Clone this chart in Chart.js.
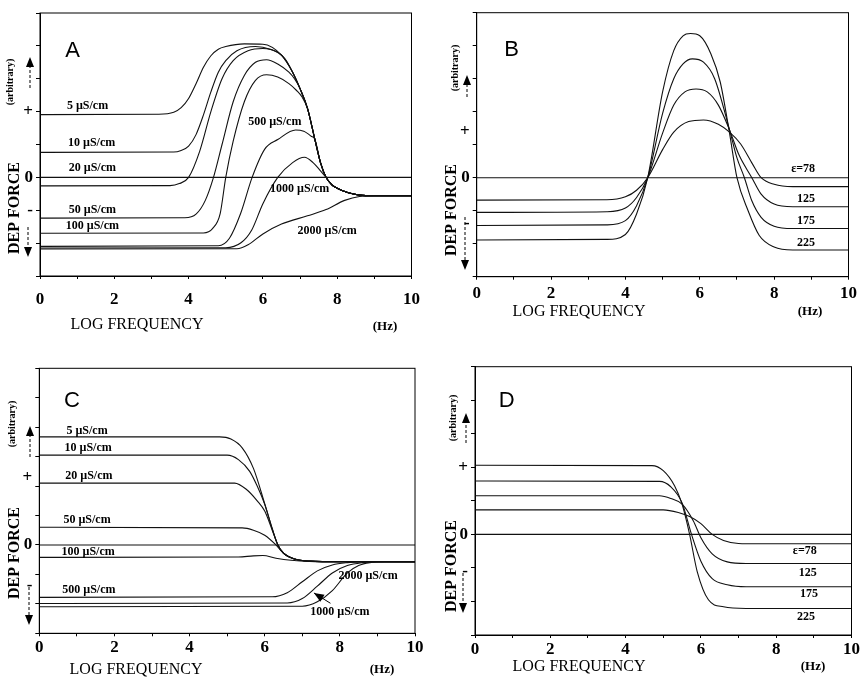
<!DOCTYPE html>
<html>
<head>
<meta charset="utf-8">
<script src="https://cdn.jsdelivr.net/npm/chart.js@4.4.0/dist/chart.umd.min.js"></script>
<style>
body { margin: 0; background: #fff; width: 861px; height: 679px; position: relative; overflow: hidden; }
canvas { position: absolute; }
</style>
</head>
<body>
<canvas id="panelA" width="430" height="340" style="left:0;top:0"></canvas>
<canvas id="panelB" width="431" height="340" style="left:430px;top:0"></canvas>
<canvas id="panelC" width="430" height="339" style="left:0;top:340px"></canvas>
<canvas id="panelD" width="431" height="339" style="left:430px;top:340px"></canvas>
<script>
// x tick labels shared by all panels
var xTickValues = [0, 2, 4, 6, 8, 10];
var zeroLine = [[0, 0], [10, 0]];

// Panel A : DEP force vs log frequency, conductivity series
var a5    = [[0,1.91],[3.2,1.92],[3.6,1.98],[3.8,2.12],[4,2.4],[4.2,2.85],[4.4,3.35],[4.6,3.7],[4.8,3.9],[5,3.98],[5.5,4.06],[6,4.05],[6.5,3.72],[6.8,3.2],[7,2.7],[7.2,2.1],[7.4,1.15],[7.55,0.45],[7.7,0],[7.85,-0.22],[8,-0.33],[8.3,-0.47],[8.6,-0.54],[9,-0.56],[10,-0.56]];
var a10   = [[0,0.76],[3.6,0.77],[3.8,0.82],[4,0.95],[4.2,1.3],[4.4,1.9],[4.6,2.6],[4.8,3.2],[5,3.55],[5.3,3.85],[5.8,3.98],[6.2,3.9],[6.5,3.72],[6.8,3.2],[7,2.7],[7.2,2.1],[7.4,1.15],[7.55,0.45],[7.7,0],[7.85,-0.22],[8,-0.33],[8.3,-0.47],[8.6,-0.54],[9,-0.56],[10,-0.56]];
var a20   = [[0,-0.26],[3.5,-0.25],[3.75,-0.19],[4,0],[4.3,0.8],[4.6,2],[4.9,3],[5.2,3.55],[5.6,3.85],[6,3.92],[6.4,3.8],[6.6,3.6],[6.8,3.2],[7,2.7],[7.2,2.1],[7.4,1.15],[7.55,0.45],[7.7,0],[7.85,-0.22],[8,-0.33],[8.3,-0.47],[8.6,-0.54],[9,-0.56],[10,-0.56]];
var a50   = [[0,-1.24],[3.9,-1.23],[4.2,-1.12],[4.45,-0.7],[4.67,0],[4.9,1],[5.2,2.3],[5.5,3.1],[5.8,3.5],[6.1,3.58],[6.4,3.45],[6.7,3.2],[6.85,3],[7,2.7],[7.2,2.1],[7.4,1.15],[7.55,0.45],[7.7,0],[7.85,-0.22],[8,-0.33],[8.3,-0.47],[8.6,-0.54],[9,-0.56],[10,-0.56]];
var a100  = [[0,-1.7],[4.4,-1.69],[4.65,-1.55],[4.85,-1.1],[5,0],[5.2,1.1],[5.5,2.3],[5.8,2.95],[6.1,3.12],[6.4,3.05],[6.7,2.85],[6.9,2.65],[7.05,2.45],[7.2,2.1],[7.4,1.15],[7.55,0.45],[7.7,0],[7.85,-0.22],[8,-0.33],[8.3,-0.47],[8.6,-0.54],[9,-0.56],[10,-0.56]];
var a500  = [[0,-2.1],[4.8,-2.08],[5.1,-1.85],[5.4,-1.1],[5.71,0],[6.05,0.86],[6.4,1.15],[6.88,1.44],[7.1,1.4],[7.3,1.25],[7.4,1.15],[7.55,0.45],[7.7,0],[7.85,-0.22],[8,-0.33],[8.3,-0.47],[8.6,-0.54],[9,-0.56],[10,-0.56]];
var a1000 = [[0,-2.15],[5,-2.14],[5.41,-1.99],[5.7,-1.6],[6,-0.8],[6.4,0],[6.8,0.45],[7.12,0.61],[7.35,0.45],[7.55,0.2],[7.7,0],[7.85,-0.22],[8,-0.33],[8.3,-0.47],[8.6,-0.54],[9,-0.56],[10,-0.56]];
var a2000 = [[0,-2.18],[5.3,-2.17],[5.6,-2.05],[6,-1.72],[6.5,-1.42],[7.2,-1.17],[7.7,-0.98],[8.2,-0.7],[8.6,-0.58],[9,-0.56],[10,-0.56]];

// Panel B : permittivity series
var b78  = [[0,-0.68],[3.5,-0.67],[4,-0.58],[4.3,-0.38],[4.6,0],[5,0.85],[5.3,1.38],[5.7,1.7],[6.1,1.75],[6.5,1.62],[6.8,1.38],[7.1,1.02],[7.4,0.45],[7.65,0],[8,-0.2],[8.5,-0.27],[10,-0.27]];
var b125 = [[0,-1.05],[3.5,-1.03],[4,-0.92],[4.3,-0.6],[4.6,0],[5,1.35],[5.3,2.2],[5.6,2.6],[5.9,2.69],[6.2,2.6],[6.5,2.2],[6.8,1.45],[7.05,0.7],[7.4,0],[7.65,-0.5],[8,-0.8],[8.5,-0.88],[10,-0.88]];
var b175 = [[0,-1.45],[3.5,-1.43],[4,-1.3],[4.3,-0.85],[4.6,0],[5,1.95],[5.3,3],[5.55,3.45],[5.8,3.6],[6.1,3.5],[6.4,3],[6.8,1.45],[7,0.6],[7.2,0],[7.4,-0.7],[7.65,-1.2],[8,-1.47],[8.5,-1.54],[10,-1.54]];
var b225 = [[0,-1.89],[3.5,-1.87],[4,-1.72],[4.3,-1.1],[4.6,0],[5,2.6],[5.3,3.85],[5.55,4.3],[5.75,4.37],[6,4.3],[6.3,3.75],[6.55,2.9],[6.8,1.35],[7,0],[7.3,-1],[7.6,-1.75],[8,-2.1],[8.5,-2.19],[10,-2.19]];

// Panel C
var c5    = [[0,3.67],[4.8,3.67],[5.1,3.6],[5.4,3.3],[5.7,2.6],[6,1.4],[6.2,0.55],[6.35,0],[6.5,-0.28],[6.8,-0.48],[7.2,-0.55],[8,-0.57],[10,-0.57]];
var c10   = [[0,3.05],[5,3.05],[5.3,2.9],[5.6,2.5],[5.8,2],[6,1.38],[6.2,0.55],[6.35,0],[6.5,-0.28],[6.8,-0.48],[7.2,-0.55],[8,-0.57],[10,-0.57]];
var c20   = [[0,2.1],[5.2,2.1],[5.5,1.9],[5.8,1.5],[6,1.15],[6.2,0.5],[6.35,0],[6.5,-0.28],[6.8,-0.48],[7.2,-0.55],[8,-0.57],[10,-0.57]];
var c50   = [[0,0.6],[5.4,0.58],[5.7,0.5],[6,0.33],[6.3,0],[6.5,-0.28],[6.8,-0.48],[7.2,-0.55],[8,-0.57],[10,-0.57]];
var c100  = [[0,-0.42],[5.3,-0.41],[5.7,-0.37],[5.95,-0.36],[6.3,-0.45],[6.7,-0.52],[7.2,-0.56],[8,-0.57],[10,-0.57]];
var c500  = [[0,-1.78],[6.2,-1.76],[6.6,-1.62],[7,-1.25],[7.4,-0.88],[7.8,-0.68],[8.2,-0.6],[8.6,-0.57],[10,-0.57]];
var c1000 = [[0,-1.99],[6.6,-1.97],[7,-1.82],[7.4,-1.4],[7.8,-0.95],[8.2,-0.7],[8.6,-0.6],[9,-0.57],[10,-0.57]];
var c2000 = [[0,-2.1],[7,-2.08],[7.4,-1.93],[7.8,-1.55],[8.2,-0.95],[8.5,-0.7],[8.8,-0.6],[9.2,-0.57],[10,-0.57]];

// Panel D
var d78  = [[0,0.73],[5,0.73],[5.4,0.65],[5.7,0.53],[6,0.32],[6.3,0],[6.6,-0.18],[7,-0.27],[7.5,-0.28],[10,-0.28]];
var d125 = [[0,1.15],[4.9,1.15],[5.2,1.07],[5.5,0.9],[5.8,0.4],[6,-0.1],[6.3,-0.58],[6.7,-0.82],[7.2,-0.87],[10,-0.87]];
var d175 = [[0,1.59],[4.9,1.58],[5.2,1.42],[5.5,0.94],[5.75,0],[6,-0.8],[6.3,-1.32],[6.7,-1.5],[7.2,-1.56],[10,-1.56]];
var d225 = [[0,2.06],[4.7,2.05],[5,1.9],[5.3,1.45],[5.5,0.9],[5.7,0],[5.9,-1.1],[6.2,-1.95],[6.6,-2.16],[7.2,-2.21],[10,-2.21]];

// y axis labels (value, text)
var yLabA = [[2,'+'],[0,'0'],[-1,'-']];
var yLabB = [[1.39,'+'],[0,'0'],[-1.39,'-']];
var yLabC = [[2.3,'+'],[0,'0'],[-1.39,'-']];
var yLabD = [[2,'+'],[0,'0'],[-1.1,'-']];

// curve labels (text, x, y in data units)
var textA = [['5 µS/cm',1.28,2.17],['10 µS/cm',1.39,1.04],['20 µS/cm',1.41,0.28],['50 µS/cm',1.41,-0.98],['100 µS/cm',1.41,-1.47],['500 µS/cm',6.32,1.68],['1000 µS/cm',6.99,-0.34],['2000 µS/cm',7.73,-1.62]];
var textB = [['ε=78',8.78,0.27],['125',8.86,-0.64],['175',8.86,-1.3],['225',8.86,-1.97]];
var textC = [['5 µS/cm',1.27,3.87],['10 µS/cm',1.3,3.29],['20 µS/cm',1.32,2.33],['50 µS/cm',1.27,0.86],['100 µS/cm',1.3,-0.23],['500 µS/cm',1.32,-1.53],['2000 µS/cm',8.75,-1.05],['1000 µS/cm',8.0,-2.28]];
var textD = [['ε=78',8.76,-0.5],['125',8.84,-1.16],['175',8.87,-1.78],['225',8.79,-2.47]];

var serif = '"Liberation Serif", "Times New Roman", serif';

function pts(arr) {
	return arr.map(function(p) { return { x: p[0], y: p[1] }; });
}

function arrow(ctx, x, y1, y2) {
	var dir = y2 < y1 ? 1 : -1;
	ctx.save();
	ctx.strokeStyle = '#000';
	ctx.lineWidth = 1;
	ctx.setLineDash([3, 2]);
	ctx.beginPath();
	ctx.moveTo(x, y1);
	ctx.lineTo(x, y2 + dir * 8);
	ctx.stroke();
	ctx.setLineDash([]);
	ctx.fillStyle = '#000';
	ctx.beginPath();
	ctx.moveTo(x, y2);
	ctx.lineTo(x - 4, y2 + dir * 10);
	ctx.lineTo(x + 4, y2 + dir * 10);
	ctx.closePath();
	ctx.fill();
	ctx.restore();
}

var decoPlugin = {
	id: 'deco',
	afterDraw: function(chart) {
		var o = chart.options.plugins.deco;
		var ctx = chart.ctx;
		var ca = chart.chartArea;
		var xs = chart.scales.x, ys = chart.scales.y;
		ctx.save();
		ctx.strokeStyle = '#000';
		ctx.lineWidth = 1;
		ctx.strokeRect(ca.left, ca.top, ca.right - ca.left, ca.bottom - ca.top);
		ctx.fillStyle = '#000';
		ctx.textAlign = 'center';
		ctx.textBaseline = 'middle';
		// panel letter
		ctx.font = '22px "Liberation Sans", Arial, sans-serif';
		ctx.fillText(o.letter[0], xs.getPixelForValue(o.letter[1]), ys.getPixelForValue(o.letter[2]));
		// curve labels
		ctx.font = 'bold 12px ' + serif;
		o.texts.forEach(function(t) {
			ctx.fillText(t[0], xs.getPixelForValue(t[1]), ys.getPixelForValue(t[2]));
		});
		// axis titles
		ctx.font = '16px ' + serif;
		ctx.fillText('LOG FREQUENCY', o.xTitle[0], o.xTitle[1]);
		ctx.font = 'bold 13px ' + serif;
		ctx.fillText('(Hz)', o.hz[0], o.hz[1]);
		ctx.save();
		ctx.translate(o.yTitle[0], o.yTitle[1]);
		ctx.rotate(-Math.PI / 2);
		ctx.font = 'bold 16px ' + serif;
		ctx.fillText('DEP FORCE', 0, 0);
		ctx.restore();
		ctx.save();
		ctx.translate(o.arb[0], o.arb[1]);
		ctx.rotate(-Math.PI / 2);
		ctx.font = 'bold 10px ' + serif;
		ctx.fillText('(arbitrary)', 0, 0);
		ctx.restore();
		arrow(ctx, o.up[0], o.up[1], o.up[2]);
		arrow(ctx, o.down[0], o.down[1], o.down[2]);
		// arrow pointer to a curve (panel C)
		if (o.pointer) {
			var p = o.pointer;
			var tx = xs.getPixelForValue(p[0]), ty = ys.getPixelForValue(p[1]);
			var hx = xs.getPixelForValue(p[2]), hy = ys.getPixelForValue(p[3]);
			var ang = Math.atan2(hy - ty, hx - tx);
			ctx.beginPath();
			ctx.moveTo(tx, ty);
			ctx.lineTo(hx, hy);
			ctx.stroke();
			ctx.beginPath();
			ctx.moveTo(hx, hy);
			ctx.lineTo(hx - 10 * Math.cos(ang) + 4 * Math.sin(ang), hy - 10 * Math.sin(ang) - 4 * Math.cos(ang));
			ctx.lineTo(hx - 10 * Math.cos(ang) - 4 * Math.sin(ang), hy - 10 * Math.sin(ang) + 4 * Math.cos(ang));
			ctx.closePath();
			ctx.fill();
		}
		ctx.restore();
	}
};

function makePanel(id, series, yMin, yMax, yLab, cfg) {
	var datasets = [zeroLine].concat(series).map(function(s) {
		return {
			data: pts(s),
			borderColor: '#111',
			borderWidth: 1.1,
			pointRadius: 0,
			fill: false,
			cubicInterpolationMode: 'monotone'
		};
	});
	new Chart(document.getElementById(id), {
		type: 'line',
		data: { datasets: datasets },
		options: {
			responsive: false,
			animation: false,
			layout: { padding: { top: cfg.padTop, right: cfg.padRight, left: 0, bottom: 0 } },
			plugins: {
				legend: { display: false },
				tooltip: { enabled: false },
				deco: cfg
			},
			scales: {
				x: {
					type: 'linear', min: 0, max: 10, position: 'bottom',
					ticks: {
						stepSize: 1, autoSkip: false, maxRotation: 0, padding: cfg.xPad, color: '#000',
						font: { family: serif, size: 17, weight: 'bold' },
						callback: function(v) { return xTickValues.indexOf(v) >= 0 ? String(v) : ''; }
					},
					grid: { drawOnChartArea: false, tickLength: 3, color: '#000' },
					border: { color: '#000', width: 1 },
					afterFit: function(s) { s.height = cfg.xHeight; }
				},
				y: {
					type: 'linear', min: yMin, max: yMax, position: 'left', weight: 0,
					ticks: { stepSize: 1, display: false },
					grid: { drawOnChartArea: false, tickLength: 4, color: '#000' },
					border: { color: '#000', width: 1 },
					afterFit: function(s) { s.width = 5; }
				},
				yl: {
					type: 'linear', min: yMin, max: yMax, position: 'left', weight: 1,
					afterBuildTicks: function(s) { s.ticks = yLab.map(function(l) { return { value: l[0] }; }); },
					ticks: {
						autoSkip: false, padding: 2, color: '#000',
						font: { family: serif, size: 17, weight: 'bold' },
						callback: function(v, i) { return yLab[i][1]; }
					},
					grid: { display: false, drawTicks: false },
					border: { display: false },
					afterFit: function(s) { s.width = cfg.yLeft - 5; }
				}
			}
		},
		plugins: [decoPlugin]
	});
}

function setCharts() {
	makePanel('panelA', [a5, a10, a20, a50, a100, a500, a1000, a2000], -3, 5, yLabA, {
		padTop: 13, padRight: 15, yLeft: 40, xHeight: 64, xPad: 10,
		letter: ['A', 0.88, 3.85], texts: textA,
		xTitle: [137, 325], hz: [385, 327], yTitle: [15, 208], arb: [10, 82],
		up: [30, 88, 57], down: [28, 227, 257]
	});
	makePanel('panelB', [b78, b125, b175, b225], -3, 5, yLabB, {
		padTop: 12.7, padRight: 10.3, yLeft: 46.7, xHeight: 63.3, xPad: 4,
		letter: ['B', 0.94, 3.88], texts: textB,
		xTitle: [149, 312], hz: [380, 312], yTitle: [22, 210], arb: [25, 68],
		up: [37, 97, 75], down: [35, 217, 270]
	});
	makePanel('panelC', [c5, c10, c20, c50, c100, c500, c1000, c2000], -3, 6, yLabC, {
		padTop: 28.3, padRight: 15, yLeft: 39.3, xHeight: 45.7, xPad: 1,
		letter: ['C', 0.87, 4.89], texts: textC,
		xTitle: [136, 330], hz: [382, 330], yTitle: [15, 213], arb: [12, 84],
		up: [30, 117, 86], down: [29, 247, 285],
		pointer: [7.75, -1.98, 7.31, -1.63]
	});
	makePanel('panelD', [d78, d125, d175, d225], -3, 5, yLabD, {
		padTop: 26.7, padRight: 7, yLeft: 45, xHeight: 44, xPad: 1,
		letter: ['D', 0.84, 3.98], texts: textD,
		xTitle: [149, 327], hz: [383, 327], yTitle: [22, 226], arb: [23, 78],
		up: [36, 103, 73], down: [33, 233, 273]
	});
}

setCharts();
</script>
</body>
</html>
